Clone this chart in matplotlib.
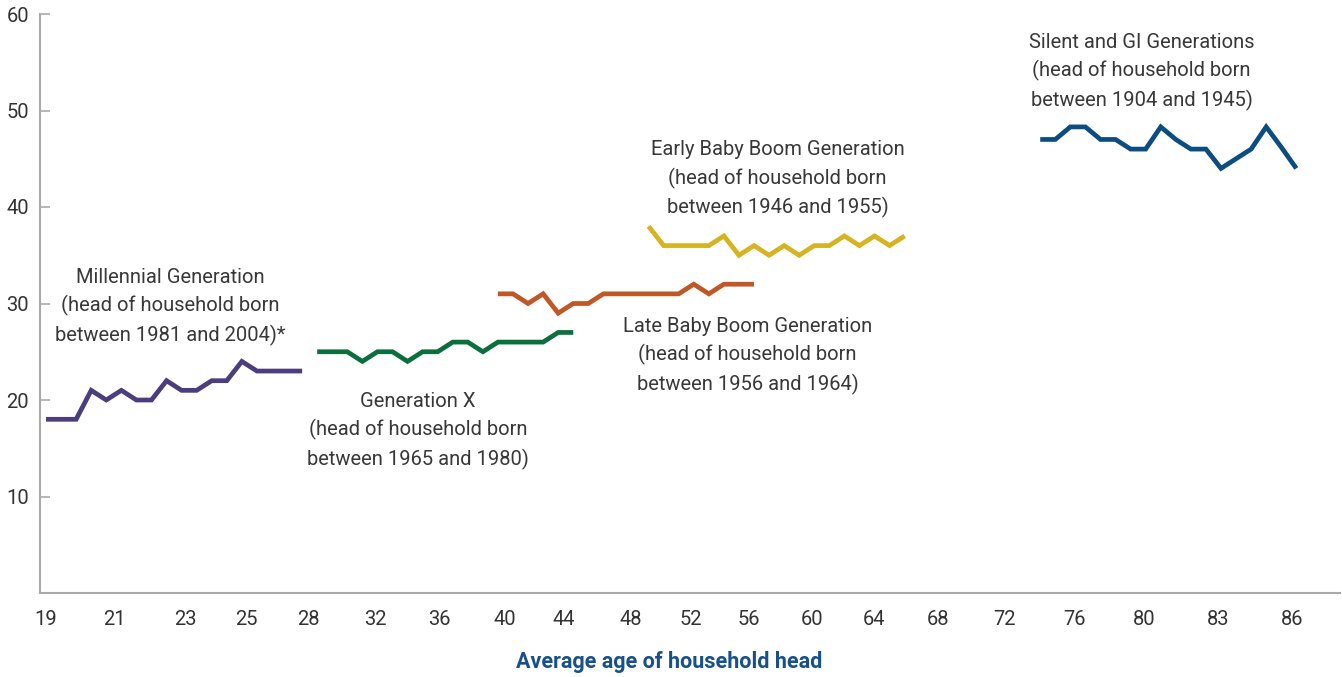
import matplotlib.pyplot as plt
import numpy as np

# values (one point per survey, evenly spaced along x)
millennial = [18, 18, 18, 21, 20, 21, 20, 20, 22, 21, 21, 22, 22, 24, 23, 23, 23, 23]
gen_x = [25, 25, 25, 24, 25, 25, 24, 25, 25, 26, 26, 25, 26, 26, 26, 26, 27, 27]
late_boom = [31, 31, 30, 31, 29, 30, 30, 31, 31, 31, 31, 31, 31, 32, 31, 32, 32, 32]
early_boom = [38, 36, 36, 36, 36, 37, 35, 36, 35, 36, 35, 36, 36, 37, 36, 37, 36, 37]
silent = [47, 47, 48.3, 48.3, 47, 47, 46, 46, 48.3, 47, 46, 46, 44, 45, 46, 48.3, 46.2, 44]

# where each series starts on the x axis (point index)
starts = [0, 18, 30, 40, 66]

tick_labels = ['19', '21', '23', '25', '28', '32', '36', '40', '44', '48',
               '52', '56', '60', '64', '68', '72', '76', '80', '83', '86']
tick_pos = [0, 4.51, 9.26, 13.27, 17.44, 21.86, 26.12, 30.47, 34.35, 38.82,
            42.8, 46.65, 50.83, 54.95, 59.19, 63.64, 68.28, 72.93, 77.84, 82.75]

series = [millennial, gen_x, late_boom, early_boom, silent]
colors = ['#4b3e7e', '#0b6e3d', '#bf5727', '#d6b421', '#0c4d80']

labels = ['Millennial Generation\n(head of household born\nbetween 1981 and 2004)*',
          'Generation X\n(head of household born\nbetween 1965 and 1980)',
          'Late Baby Boom Generation\n(head of household born\nbetween 1956 and 1964)',
          'Early Baby Boom Generation\n(head of household born\nbetween 1946 and 1955)',
          'Silent and GI Generations\n(head of household born\nbetween 1904 and 1945)']
label_xy = [(8.26, 29.65), (24.68, 16.8), (46.58, 24.6), (48.57, 42.9), (72.73, 54.0)]

plt.rcParams['font.family'] = ['Roboto', 'DejaVu Sans']

fig = plt.figure(figsize=(13.42, 6.77), dpi=100)
ax = fig.add_axes([40/1342, 84/677, 1300/1342, 579/677])

for vals, st, c in zip(series, starts, colors):
    x = np.arange(st, st + len(vals))
    ax.plot(x, vals, color=c, lw=3.4, solid_joinstyle='miter', solid_capstyle='butt')

for txt, (tx, ty) in zip(labels, label_xy):
    ax.text(tx, ty, txt, ha='center', va='center', fontsize=14.5,
            color='#383838', linespacing=1.52)

ax.set_xlim(-0.4, 85.9)
ax.set_ylim(0, 60)
ax.set_yticks([10, 20, 30, 40, 50, 60])
ax.set_xticks(tick_pos)
ax.set_xticklabels(tick_labels)
ax.tick_params(axis='y', direction='in', length=7, width=1.2, color='#aaaaaa',
               labelsize=14.5, labelcolor='#333333', pad=8)
ax.tick_params(axis='x', length=0, labelsize=14.5, labelcolor='#333333', pad=12)

for s in ['top', 'right']:
    ax.spines[s].set_visible(False)
for s in ['left', 'bottom']:
    ax.spines[s].set_color('#aaaaaa')
    ax.spines[s].set_linewidth(1.5)

ax.set_xlabel('Average age of household head', fontsize=15.5, fontweight='bold',
              color='#17508a')
ax.xaxis.set_label_coords((669 - 40) / 1300, -(662 - 593) / 579)
ax.xaxis.label.set_va('center')

fig.savefig('out.png', dpi=100)
